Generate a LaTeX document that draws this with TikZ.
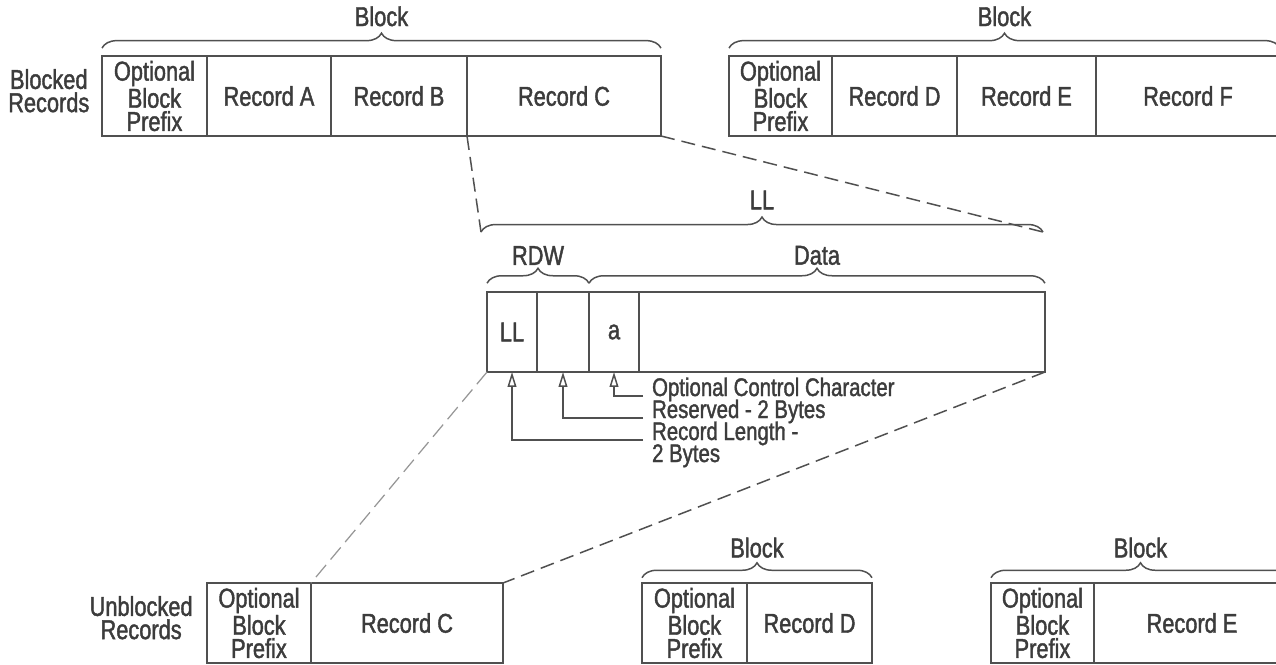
\documentclass[tikz,border=0pt]{standalone}
\usepackage{fontspec}
\setmainfont{Liberation Sans}[FakeStretch=0.8, FakeBold=1.5]
\usetikzlibrary{arrows.meta, positioning, decorations.pathreplacing}
\definecolor{LineGray}{RGB}{80,80,80}
\definecolor{InkGray}{RGB}{60,60,60}
\definecolor{FaintGray}{RGB}{150,150,150}

\tikzset{
  lbl/.style={font=\fontsize{15.5}{13.2}\selectfont, text=InkGray, align=center, inner sep=0pt},
  cell/.style={lbl, draw=LineGray, line width=0.85pt, minimum height=80*0.02cm,
               minimum width=#1*0.02cm, outer sep=0pt},
  brace/.style={draw=LineGray, line width=0.85pt, decorate,
                decoration={brace, amplitude=8.5pt}},
  note/.style={lbl, font=\fontsize{14.5}{12}\selectfont, anchor=base west, inner xsep=5pt},
  ptr/.style={draw=LineGray, line width=0.85pt, -{Triangle[open, length=8.5pt, width=5pt]}},
  zoomdash/.style={draw=LineGray, line width=0.85pt, dash pattern=on 8pt off 4pt},
  zoomfaint/.style={draw=FaintGray, line width=0.7pt, dash pattern=on 9pt off 4pt}
}

\begin{document}
\begin{tikzpicture}[x=0.02cm, y=-0.02cm]
      \useasboundingbox (0,0) rectangle (1276,664);

      % blocked records, first block
      \node[cell=105, anchor=north west] (pfxA) at (102,56) {Optional\\Block\\Prefix};
      \node[cell=124, right=0pt of pfxA] (recA) {Record A};
      \node[cell=136, right=0pt of recA] (recB) {Record B};
      \node[cell=194, right=0pt of recB] (recC) {Record C};
      \node[lbl, left=7pt of pfxA, yshift=3pt] (blocked) {Blocked\\Records};
      \draw[brace] ([yshift=4.5pt]pfxA.north west) -- ([yshift=4.5pt]recC.north east)
            node[lbl, midway, above=12pt] (blkA) {Block};

      % blocked records, second block
      \node[cell=103, anchor=north west] (pfxD) at (729,56) {Optional\\Block\\Prefix};
      \node[cell=125, right=0pt of pfxD] (recD) {Record D};
      \node[cell=139, right=0pt of recD] (recE) {Record E};
      \node[cell=184, right=0pt of recE] (recF) {Record F};
      \draw[brace] ([yshift=4.5pt]pfxD.north west) -- ([yshift=4.5pt]recF.north east)
            node[lbl, midway, above=12pt] (blkD) {Block};

      % variable record, expanded
      \node[cell=50, anchor=north west] (llcell) at (487,292) {LL};
      \node[cell=52, right=0pt of llcell] (res) {};
      \node[cell=50, right=0pt of res] (acell) {a};
      \node[cell=406, right=0pt of acell] (data) {};

      \coordinate (llL) at (481,232);
      \coordinate (llR) at (1043,232);
      \draw[brace] (llL) -- (llR) node[lbl, midway, above=12.5pt] (lltxt) {LL};
      \draw[brace] ([yshift=5pt]llcell.north west) -- ([yshift=5pt]res.north east)
            node[lbl, midway, above=10pt] (rdw) {RDW};
      \draw[brace] ([yshift=5pt]acell.north west) -- ([yshift=5pt]data.north east)
            node[lbl, midway, above=10pt] (datatxt) {Data};

      \draw[zoomdash] (recC.south west) -- (llL);
      \draw[zoomdash] (recC.south east) -- (llR);

      % field notes
      \node[note] (ctl) at (643,396) {Optional Control Character};
      \node[note] (resv) at (643,418) {Reserved - 2 Bytes};
      \node[note] (rlen) at (643,440) {Record Length -};
      \node[note] (rlen2) at (643,462) {2 Bytes};
      \draw[ptr] (ctl.base west) -| (acell.south);
      \draw[ptr] (resv.base west) -| (res.south);
      \draw[ptr] (rlen.base west) -| (llcell.south);

      % unblocked records
      \node[cell=104, anchor=north west] (pfxU) at (207,583) {Optional\\Block\\Prefix};
      \node[cell=192, right=0pt of pfxU] (recCu) {Record C};
      \node[lbl, left=8pt of pfxU, yshift=3pt] (unblocked) {Unblocked\\Records};

      \draw[zoomfaint] (llcell.south west) -- (recCu.north west);
      \draw[zoomdash] (data.south east) -- (recCu.north east);

      \node[cell=105, anchor=north west] (pfxD2) at (642,583) {Optional\\Block\\Prefix};
      \node[cell=125, right=0pt of pfxD2] (recD2) {Record D};
      \draw[brace] ([yshift=3pt]pfxD2.north west) -- ([yshift=3pt]recD2.north east)
            node[lbl, midway, above=11pt] (blkD2) {Block};

      \node[cell=103, anchor=north west] (pfxE2) at (991,583) {Optional\\Block\\Prefix};
      \node[cell=196, right=0pt of pfxE2] (recE2) {Record E};
      \draw[brace] ([yshift=3pt]pfxE2.north west) -- ([yshift=3pt]recE2.north east)
            node[lbl, midway, above=11pt] (blkE2) {Block};
\end{tikzpicture}
\end{document}
